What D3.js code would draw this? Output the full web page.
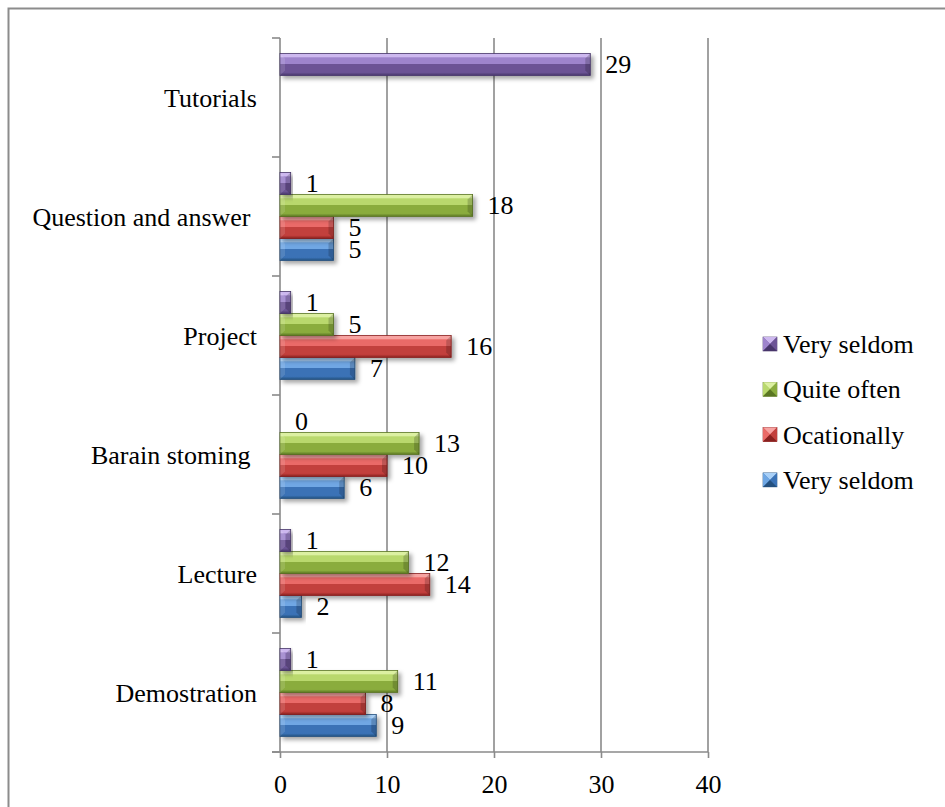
<!DOCTYPE html>
<html>
<head>
<meta charset="utf-8">
<script src="https://cdn.jsdelivr.net/npm/d3@7"></script>
</head>
<body style="margin:0">
<script>
// Teaching methods, bottom to top as listed on the category axis
const categories = ["Demostration", "Lecture", "Barain stoming ", "Project", "Question and answer ", "Tutorials"];

// One array per response series (null = no bar)
const verySeldomA = [9, 2, 6, 7, 5, null];
const ocationally = [8, 14, 10, 16, 5, null];
const quiteOften  = [11, 12, 13, 5, 18, null];
const verySeldomB = [1, 1, 0, 1, 1, 29];

const seriesNames = ["Very seldom", "Ocationally", "Quite often", "Very seldom"];
const xTicks = [0, 10, 20, 30, 40];

const FONT = "Liberation Serif";
const FS = 26;

const W = 945, H = 807;
const svg = d3.select("body").append("svg").attr("width", W).attr("height", H)
  .attr("font-family", FONT).attr("font-size", FS);

// Bevel palettes: edge highlight, upper face, lower face, dark edge
const palettes = [
  { id: "blue",   hi: "#a9d0f7", top: "#6fa7e4", bot: "#3a72b6", dark: "#24507f" },
  { id: "red",    hi: "#f7a3a1", top: "#ea6a67", bot: "#c23f3c", dark: "#88201f" },
  { id: "green",  hi: "#dcf0a2", top: "#b9d86d", bot: "#8aac3e", dark: "#5a7622" },
  { id: "purple", hi: "#cdb8ef", top: "#9e84cc", bot: "#6c5395", dark: "#47356a" }
];

const defs = svg.append("defs");
palettes.forEach(p => {
  const g = defs.append("linearGradient").attr("id", "g-" + p.id)
    .attr("x1", 0).attr("y1", 0).attr("x2", 0).attr("y2", 1);
  [[0, p.hi], [0.14, p.hi], [0.2, p.top], [0.46, p.top], [0.5, p.bot], [0.86, p.bot], [1, p.dark]]
    .forEach(([o, c]) => g.append("stop").attr("offset", o).attr("stop-color", c));
});
const shadow = defs.append("filter").attr("id", "shadow")
  .attr("x", "-10%").attr("y", "-30%").attr("width", "130%").attr("height", "180%");
shadow.append("feDropShadow").attr("dx", 3).attr("dy", 3).attr("stdDeviation", 2)
  .attr("flood-color", "#000").attr("flood-opacity", 0.35);

// Outer frame
svg.append("rect").attr("x", 8.5).attr("y", 8.5).attr("width", W + 10).attr("height", H + 10)
  .attr("fill", "none").attr("stroke", "#8c8c8c").attr("stroke-width", 2);

// Scales
const x = d3.scaleLinear().domain([0, 40]).range([280, 708]);
const yCat = d3.scaleBand().domain([...categories].reverse()).range([38, 752]).padding(0);
// Series stacked top-to-bottom inside each band: last series on top
const seriesOrder = [3, 2, 1, 0];
const ySer = d3.scaleBand().domain(seriesOrder).range([15.5, yCat.bandwidth() - 15.5]).padding(0);

const gridColor = "#8a8a8a";

// Vertical gridlines
svg.append("g").selectAll("line").data(xTicks.filter(t => t > 0)).join("line")
  .attr("x1", d => x(d)).attr("x2", d => x(d))
  .attr("y1", 38).attr("y2", 752)
  .attr("stroke", gridColor).attr("stroke-width", 1.6);

// Category axis line and boundary ticks
svg.append("line").attr("x1", 280).attr("x2", 280).attr("y1", 38).attr("y2", 752)
  .attr("stroke", gridColor).attr("stroke-width", 1.6);
const bounds = categories.map(c => yCat(c)).concat([yCat.range()[1]]);
svg.append("g").selectAll("line").data(bounds).join("line")
  .attr("x1", 272).attr("x2", 280).attr("y1", d => d).attr("y2", d => d)
  .attr("stroke", gridColor).attr("stroke-width", 1.6);

// Value axis
const xAxis = svg.append("g").attr("transform", "translate(0,752)")
  .call(d3.axisBottom(x).tickValues(xTicks).tickSize(6).tickFormat(d3.format("d")))
  .attr("font-family", FONT).attr("font-size", FS);
xAxis.select(".domain").remove();
xAxis.append("line").attr("x1", 272).attr("x2", 708).attr("stroke", gridColor).attr("stroke-width", 1.6);
xAxis.selectAll(".tick line").attr("stroke", gridColor).attr("stroke-width", 1.6);
xAxis.selectAll(".tick text").attr("y", 41).attr("dy", 0).attr("fill", "#000");

// Category labels
svg.append("g").selectAll("text").data(categories).join("text")
  .attr("x", 257).attr("y", d => yCat(d) + yCat.bandwidth() / 2 + 9)
  .attr("text-anchor", "end").attr("xml:space", "preserve")
  .text(d => d);

// Bars with bevelled faces
const allSeries = [verySeldomA, ocationally, quiteOften, verySeldomB];
const barData = [];
allSeries.forEach((vals, si) => vals.forEach((v, ci) => {
  if (v !== null) barData.push({ si, cat: categories[ci], v });
}));

const barG = svg.append("g");
barData.filter(d => d.v > 0).forEach(d => {
  const p = palettes[d.si];
  const x0 = x(0), x1 = x(d.v);
  const y0 = yCat(d.cat) + ySer(d.si), h = ySer.bandwidth();
  const w = x1 - x0, b = Math.min(5, w / 2);
  const g = barG.append("g");
  g.append("rect").attr("x", x0).attr("y", y0).attr("width", w).attr("height", h)
    .attr("fill", "url(#g-" + p.id + ")").attr("stroke", p.dark).attr("stroke-width", 0.8)
    .attr("filter", "url(#shadow)");
  // right end slant
  g.append("path")
    .attr("d", `M${x1},${y0}L${x1 - b},${y0 + b}L${x1 - b},${y0 + h - b}L${x1},${y0 + h}Z`)
    .attr("fill", "#000").attr("opacity", 0.18);
  // left end slant
  g.append("path")
    .attr("d", `M${x0},${y0}L${x0 + b},${y0 + b}L${x0 + b},${y0 + h - b}L${x0},${y0 + h}Z`)
    .attr("fill", "#fff").attr("opacity", 0.12);
});

// Value labels
svg.append("g").selectAll("text").data(barData).join("text")
  .attr("x", d => x(d.v) + 15)
  .attr("y", d => yCat(d.cat) + ySer(d.si) + ySer.bandwidth() / 2 + 8)
  .text(d => d.v);

// Legend, top entry is the last series
const legendItems = [3, 2, 1, 0];
const lg = svg.append("g");
legendItems.forEach((si, i) => {
  const p = palettes[si];
  const cy = 344 + i * 45.3;
  const s = 14, lx = 763, ly = cy - s / 2;
  lg.append("rect").attr("x", lx).attr("y", ly).attr("width", s).attr("height", s)
    .attr("fill", p.bot).attr("stroke", p.dark).attr("stroke-width", 0.6);
  lg.append("path").attr("d", `M${lx},${ly}L${lx + s},${ly}L${lx + s / 2},${ly + s / 2}Z`).attr("fill", p.hi);
  lg.append("path").attr("d", `M${lx},${ly}L${lx + s / 2},${ly + s / 2}L${lx},${ly + s}Z`).attr("fill", p.top);
  lg.append("path").attr("d", `M${lx + s},${ly}L${lx + s / 2},${ly + s / 2}L${lx + s},${ly + s}Z`).attr("fill", p.bot);
  lg.append("path").attr("d", `M${lx},${ly + s}L${lx + s / 2},${ly + s / 2}L${lx + s},${ly + s}Z`).attr("fill", p.dark);
  lg.append("text").attr("x", 783).attr("y", cy + 9).text(seriesNames[si]);
});
</script>
</body>
</html>
